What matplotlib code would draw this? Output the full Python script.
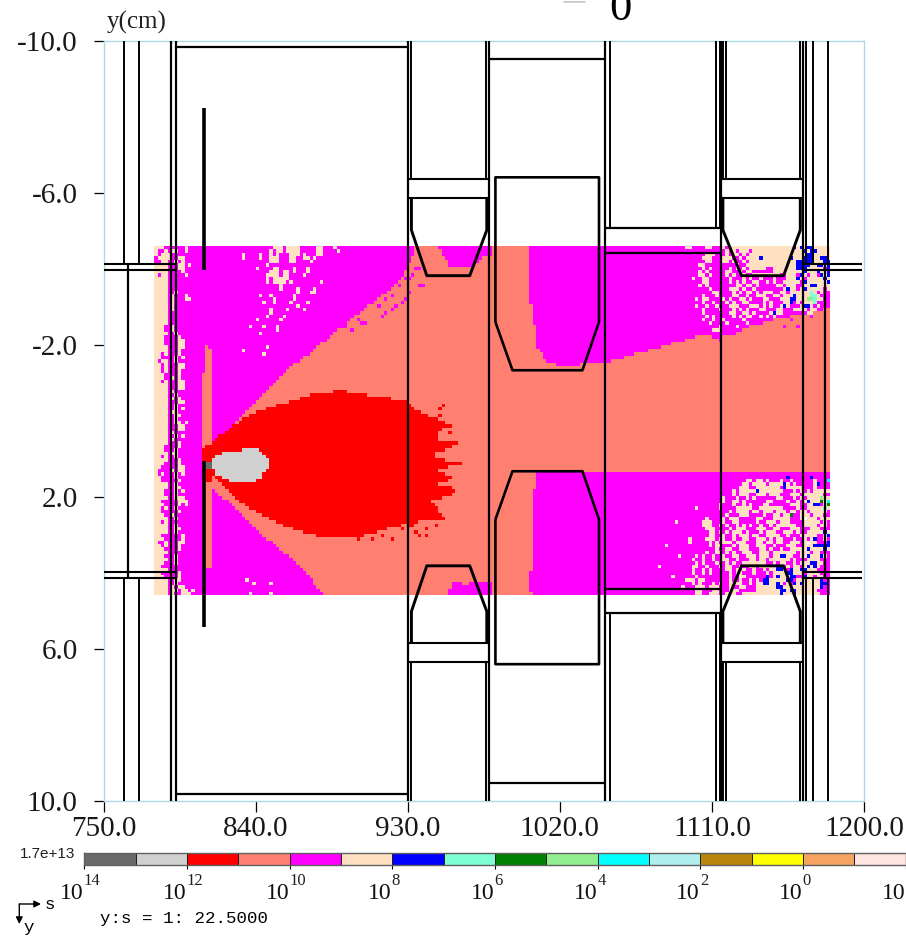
"""Carte de flux (s, y) avec la geometrie de la ligne - copie matplotlib."""
import numpy as np
import matplotlib
matplotlib.use("Agg")
import matplotlib.pyplot as plt
from matplotlib.colors import ListedColormap
from matplotlib.path import Path

SERIF = "Liberation Serif"

# colorbar
bar_colors = ["#696969", "#D0D0D0", "#FF0000", "#FF8070", "#FF00FF", "#FFE0C0",
              "#0000FF", "#7FFFD4", "#008000", "#90EE90", "#00FFFF", "#AFEEEE",
              "#B8860B", "#FFFF00", "#F4A460", "#FFE4E1"]
bar_exponents = ["14", "12", "10", "8", "6", "4", "2", "0", "-2"]
bar_max_label = "1.7e+13"

# axes
s_ticks = [750, 840, 930, 1020, 1110, 1200]
s_labels = ["750.0", "840.0", "930.0", "1020.0", "1110.0", "1200.0"]
y_ticks = [-10, -6, -2, 2, 6, 10]
y_labels = ["-10.0", "-6.0", "-2.0", "2.0", "6.0", "10.0"]

# maillage du flux
mesh_s_min, mesh_s_max, mesh_cols = 780.0, 1180.0, 200
mesh_y_min, mesh_y_max, mesh_rows = -4.6, 4.6, 102
LEVEL = {"c": 5, "m": 4, "s": 3, "r": 2, "g": 1, "d": 0, "b": 6, "a": 7,
         "G": 8, "l": 9, "t": 10, "w": 16}

# zones (s, y)
magenta_zone = [(788, -4.6), (1180, -4.6), (1180, 4.6), (788, 4.6)]
salmon_zone = [(814, 0.57), (825, 0.2), (838, -0.41), (862, -1.46), (868, -1.65),
               (896, -2.65), (924, -3.62), (932, -4.18), (935, -4.6), (1001.6, -4.6),
               (1001.6, -3.7), (1003.4, -2.91), (1005.2, -2.46), (1006.4, -1.94),
               (1012.3, -1.59), (1020, -1.46), (1045.4, -1.52), (1114.6, -2.38),
               (1180, -2.96), (1180, 1.38), (1005.2, 1.38), (1005.2, 1.78),
               (1003.4, 2.04), (1003.4, 3.86), (1001.6, 4.2), (1003.4, 4.6),
               (881, 4.6), (864.4, 3.75), (842.6, 2.96), (824.8, 2.17), (814.2, 1.78)]
salmon_stripe = [(810, -1.94), (812, -1.94), (812, -1.85), (813.6, -1.85), (814.2, 0.57),
                 (814.2, 1.78), (813.6, 3.86), (808.2, 3.86), (808.2, -1.29), (810, -1.29)]
pocket_top = [(947.8, -4.6), (949.6, -4.41), (954.9, -4.1), (968, -4.04), (974.4, -4.28),
              (979.8, -4.33), (979.8, -4.6)]
pocket_bottom = [(953.7, 4.6), (953.7, 4.4), (957, 4.4), (957, 4.2), (962, 4.2), (962, 4.35),
                 (966, 4.35), (966, 4.2), (980, 4.2), (980, 4.6)]
red_zone = [(811.2, 0.65), (821.8, 0.3), (830.7, -0.01), (842.6, -0.28), (854.4, -0.43),
            (872.1, -0.67), (889.9, -0.8), (913.5, -0.62), (929.5, -0.54), (937.2, -0.22),
            (944.9, -0.09), (956.1, 0.12), (947.2, 0.3), (947.8, 0.57), (962, 0.59),
            (947.2, 0.83), (946, 0.99), (962, 1.12), (947.2, 1.3), (957.9, 1.52), (947.2, 1.65),
            (957.9, 1.78), (956.1, 2.02), (941.9, 2.04), (947.2, 2.31), (951.9, 2.57),
            (944.3, 2.62), (929.5, 2.7), (915.3, 2.89), (903.5, 3.02), (888, 3.07), (876.2, 3.02),
            (860.3, 2.83), (844.3, 2.49), (828.9, 2.09), (821, 1.7), (815, 1.42), (812, 1.7),
            (808.2, 1.5), (808.2, 0.7)]
grey_zone = [(814.2, 1.17), (814.8, 0.96), (824.8, 0.78), (842.6, 0.75), (847.3, 1.04),
             (847.3, 1.25), (842.6, 1.52), (835.5, 1.65), (828.9, 1.65), (821.8, 1.52), (817.2, 1.44)]
dark_zone = [(810, 1.12), (814.2, 1.12), (814.2, 1.23), (810, 1.23)]

# taches : (s, y)
red_spots = [(941.8, 2.81), (941.8, 2.98), (935.2, 2.93), (949, -0.33), (949, -0.15),
             (920.4, 3.08), (915.7, 3.05), (901.7, 3.15), (936, 3.05), (908, 3.12),
             (930, 2.78), (933, 2.72), (926, 2.85), (946, 2.72), (950, -0.42), (955, 0.3)]
cream_spots = [(835.5, 4.15), (838.4, 4.3), (848.5, 4.3), (836.6, 4.55), (848.5, 4.55),
               (1083.8, 3.28), (1088, 2.62), (1079, 3.8), (1086, 4.07), (1090, 3.6),
               (800, 4.55), (802, 4.45)]

# blocs de cellules : origine (s, y) puis lignes
top_speckle_origin = (832.0, -4.6)
top_speckle = [
    ".........ccc.cccc.....cc...c",
    "........c.cc.cccc.....cc....c",
    "c....c..c.c...ccc.c...cc",
    "c....c..ccc...cc..cc.c",
    "........ccc...cc....c",
    ".......c",
    "....c....cc....c...c",
    "........ccc.cc.c...c",
    ".......cccc.cc....c",
    ".......c.ccccc",
    ".......c.cccc.c........c",
    "...........c",
    "...........c....c....c",
    "................c...cc",
    ".....c..c......c",
    ".........c.....c",
    "......c..c....c....c",
    "................c",
    "........c....c....c",
    "........c",
    ".......c....c",
    "....c......c",
    "",
    "..c...c...c",
    "..........c",
    ".....c",
    "", "", "",
    ".......c",
    "c",
    "......c",
]

boundary_origin = (892.0, -4.05)
boundary_speckle = [
    ".....................mm",
    "",
    "....................m",
    "..................mm",
    "",
    "................m.....mm",
    "",
    ".........m.........m",
    "..............m",
    ".........m..m.....m",
    "........m........m",
    "..........m....m",
    ".....m........m",
    "....m.......m",
    "...........m",
    ".m..m",
    ".....mm",
    "m",
    "..m",
]

left_origin = (780.0, -4.6)
left_band = [
    "...mmmmm.c",
    ".mm..cc..c",
    ".m.cc.....",
    "m.c.c..cc",
    "mm.c..c.c",
    "...c...cc.c",
    "...c...cc",
    "...c.m..c",
    ".m..m....c",
    "",
    "....m",
    "....m....",
    "....m",
    "....m.c",
    "....mc...c",
    "....mc...cc",
    "....mc",
    "....mc",
    "....mc",
    "....m",
    "",
    "....m",
    "....m",
    "...mmc",
    "...mmc",
    "....m.c",
    "...m.m.c",
    "...m.m.cc",
    "...mmm.cc",
    "....m..cc",
    "....mm.c",
    "..m.mm.c",
    "..mmmmc.c",
    ".m..mmc",
    "..m.mm.cc",
    "..m.mm.cc",
    "..m.mm.c",
    "...m.m.c",
    "...m.c.c",
    "..m..m.cc",
    "....mm.cc",
    "....m..cc",
    "....mc",
    "....m.c",
    "....mc.c",
    "....mm.cc",
    "....m.c",
    "....m.c.c",
    "....mcc",
    "....m.cc",
    "....m.c",
    "....m.cc.c",
    "....m..cc",
    "....m..cc",
    "....mc",
    "....m.c.c",
    "....mc",
    "....mm.c",
    "...m.m.c",
    "...m.mc",
    "....mcc",
    "..m.m.c",
    "....m..c",
    "...mmm.c",
    "..mm.m.cc",
    ".mmm.c.cc",
    ".m.mm.c.c",
    "..mmm.c",
    "..mm.m.c",
    "....m.c",
    "....m.cc",
    "...mm.c.c",
    "...m..c",
    "....m.ccc",
    "..mm.m.ccc",
    "...mmm.c.c",
    "..m.m.c",
    "..mm.m.c",
    "...m.c",
    "....m.c",
    "..m.mm",
    "....m.c",
    "....m.cc",
    "....m.c",
    "..mm.mm.c",
    "...mmmm.c",
    ".mm..m.cc",
    "..m.mm.c",
    "...m.m.c",
    "....mm",
    "...mm.c",
    "....m.c",
    "...m..c",
    "..mm.mm",
    "....m",
    "..mmmm.c",
    "...mm..c",
    "....m.cc",
    "....m.c",
    ".....c.cc",
    ".....cc.cc",
    ".....c..cc",
]

upper_right_origin = (1092.0, -4.6)
upper_right = [
    "mccmmmmccmmmcmcccccccccccccccccccbcbcbbccccccbb",
    "mmmmmmmmmmmmmcmcmcccmcccccccccccccccbcbbcccccbcb",
    "mmmmmmmcccmmmcmccmcmcccccccccccccccccbbcccccbcbb",
    "mmmmmmcccmmmcccmmcmccccbccccccccbcccbbbccbbcc",
    "mmmmmmmccmmmccmcmmcmccccccccccccccbcbbbcccbbbb",
    "mmmmmccmmmmmmmmmcmmccccccccccccccccbbbccbbcb",
    "mmmmmmcmcmmmmmcmcmcmcccccmmcccccccbcccccccmb",
    "mmmmmcmcmmmmmccmmcmccmmmmmmcccccccccbcccbccbc",
    "mmmmmccmcmmmmcmcmmcmmccccccccmmcccmbcmccmbcbb",
    "mmmcmmccmmmmmmcmmmcmcmmcmmmcmmmcccbcmcccccbc",
    "mmmmmmccmmmmmmcmcmcmmccmmcmcmmcccccmbccccccbc",
    "mmmmmcmcmmmmmmmmccmccmcmmmmmccmcccmmccbbcccc",
    "mmmmmmmmcmmmmmcccmcmmcmmmmmmmmcbccmcbcccccmcb",
    "mmmmmmmmmccmmmmcmcmccmcmcccmmccmccccccacmc",
    "mmmmmmcmmmcmmmmccmmcmmcccmmccmcccbccccaac",
    "mmmmcmccmmmmcmcmmccmcmmmccmmmcccbbcccllacc",
    "mmmmmmcmmcmmmcmcmmccmmmmcmcmmmccbmcmccca",
    "mmmmcmmcmmcmmmcccmmmcccmcmcmmcbcmmmcbbcmc",
    "mmmmmmcmmmmcmmmcmcmcmmmccmmmccmmmccccmcc",
    "mmmmmmcmmmmmmmccmmccmcmmmmcbccmmmm.mmcc",
    ".mmmmmmcmcmmmmmcmcmccmmcmcmcmmm.......m",
    "..mmmmcmmcmmcmmmmmcmmmmmmmm.....m",
    "...mmmmmcmmmmcmmmmmcmmmm",
    "....mmmmmmmcmmmmcmmm..........m...m",
    ".....mmmmcccmmmmmm",
    ".......mmmmmmmmm",
    ".........mmm",
    "...........m",
]

blue_block_origin = (1160.0, -4.25)
blue_block = ["bbb", "bbb", "bbb"]

lower_right_origin = (1092.0, 1.38)
lower_right = [
    "...........................................mm",
    "mmmmmmmmmmmmmmmmmmmmmmmmmmmmmmmbmmmmmmbmmmm",
    "mmmmmmmmmmmmmmmmmmmccmccmcmmmcmmcmmmmmmcmmmtm",
    "mmmmmmmmmmmmmmmmmmccmccccmccccbcmcmmmmmcbmmmm",
    "mmmmmmmmmmmmmmmmmcccmmcccccccmbcccccmmmcmmmmmc",
    "mmmmmmmmmmmmmmmcmcccccbcccccccmmmcmcmcmcccccc",
    "mmmmmmmmmmmmmmmcmcccmmcccmcccmmmcccmccccccm",
    "mmmmmmmmmmmmcmmmcmmcmcmmmmmmccmmmcmcmcccclcc",
    "mmmmmmmmmmmmcmmccmcmmmmmmccmmmmcmmcmcbcccGct",
    "mmmmmmmmmmmcmmmcmmcmcmmmccmmmmmmcccmmccbbmcGcc",
    "mmmmcmmmmmmcmmmmcccccmmcccccccmmmmcmmcccccact",
    "mmmmmmmmmmmmmmcmccccmccmcccmcccmccmccmcccccmmc",
    "mmmmmmmmmmmmmcmmmcccmmmmcmmccmccGmmcccmcccmmm",
    "mmmmmmmcmmmmcmcccmmmmmccmmmcccccmmmcwcccmcccc",
    "mmmmmmcccmmmcmmccmmmmmcmmcccmcccmmmmcccccmc",
    "mmmmmmcccmmcmcmmcmcmcmmcmmcmccccccmmccccmcc",
    "mmmmmmmcccmmmmcmcccmmmcccmmccmmmcccmmmcccmmmc",
    "mmmmmmmmccmcmcmcccmcmmmcmcccmmcccmcmmcccccbc",
    "mmmmmmmmccmmcmmcmcccmccmmccccmmcmmmcccccmmcb",
    "mmcmmmmcccmccmmcmmccmmcccmcmccmmmcmmcmcbmmc",
    "mmcmmmmmcmcmcccmcccmmmccmccmccmmcccmcwccmmmb",
    "mmmmmmmmcmccmmmcmcccmmcccmmcmmmcccmmcccbbbbbb",
    "mmmmmmmmmmcmmccmmcccmmmccmcmmcmmcccccbccccbc",
    "mmmmmmmcmmccmcmcmmcccmmcccmcccccccmcccmcc",
    "mmmmcmcmmcmmcmmccmmcccmcccmccbbccmmccbcccbc",
    "mmmcmmcmmcmmccmmcmmmccmccmccccccmcmmmccccm",
    "mmmmcmcmmmcmmcmcmmcccccccmmcmccmmcmcccbbcc",
    "mmmccmmcmmmcmccmmcmmccmcccccbbmcmccmcbcbc",
    "mmmcmmcmcmmmmccmcmcmmcmmcmccbbcmbccbbccc",
    "mmmcmmcmcmmmmmcmccmmmcmmmcmccccbbcccmcccc",
    "mmmmcmmmmmmmmmcmmccmmmmmmbmcbcccbbmmbccmcc",
    "mcccmccmmmmmmmcmmcmmcmcmbbcccccbbmcccccccb",
    "mmmcmcmmmcmcmmccccmmcmccbbccbcmcmbcbcccccbb",
    "cmmmcccmcccmmmcmmccmmmccccccbbcccccccccccb",
    "mmmmccmmmccmmmcccmmmmmcccccccbbcbbcccccc",
    "mmmmccmmcccmmcccmmcccccccccccbcccbccccccc",
    "cccccccccccccccccmcccccccccccbccccccccccc",
]

# geometrie : demi-ligne superieure, repetee en miroir
full_walls = [789.9, 792.9, 930.0, 978.1, 1047.0, 1115.6, 1163.9]
outer_walls = [762.0, 771.2, 1165.8, 1169.8, 1178.7]
inner_walls = [764.5, 1176.7]
upper_walls = [932.2, 976.5, 1116.5, 1118.2, 1162.3]
wall_gap_y = -6.36
wall_plate_y = -5.86
upper_plates = [(930.0, 978.1), (1115.6, 1163.9)]
pipe_y = [-4.14, -3.97]
pipe_spans = [(750.3, 792.9), (1163.9, 1198.7)]
roof_spans = [(792.9, 930.0, -9.84), (978.1, 1047.0, -9.53), (1047.0, 1115.6, -5.07),
              (1047.0, 1115.6, -4.42)]
roof_walls = [1049.5, 1112.6, 1114.6]
roof_wall_end = -5.07
trap_s = [[932.2, 932.2, 941.3, 966.7, 976.8, 976.8],
          [1116.5, 1116.5, 1127.5, 1152.4, 1162.3, 1162.3]]
trap_y = [-5.86, -5.02, -3.82, -3.82, -5.02, -5.86]
core_s = [981.9, 981.9, 1043.2, 1043.2, 1033.4, 992.0, 981.9]
core_y = [-2.6, -6.41, -6.41, -2.6, -1.33, -1.33, -2.6]
foil_s = 809.3
foil_spans = [(-8.23, -3.97), (1.07, 5.42)]

W, H = 906, 938


def paint_zone(grid, centers, zone, code):
    inside = Path(zone).contains_points(centers)
    grid[inside.reshape(grid.shape)] = code


def paint_block(grid, origin, rows, ds, dy):
    i0 = int(round((origin[0] - mesh_s_min) / ds))
    j0 = int(round((origin[1] - mesh_y_min) / dy))
    for j, row in enumerate(rows):
        for i, ch in enumerate(row):
            if ch in LEVEL and 0 <= i0 + i < mesh_cols and 0 <= j0 + j < mesh_rows:
                grid[j0 + j, i0 + i] = LEVEL[ch]


def paint_spots(grid, spots, code, ds, dy):
    for s, y in spots:
        grid[int((y - mesh_y_min) / dy), int((s - mesh_s_min) / ds)] = code


def build_mesh():
    s_edges = np.linspace(mesh_s_min, mesh_s_max, mesh_cols + 1)
    y_edges = np.linspace(mesh_y_min, mesh_y_max, mesh_rows + 1)
    ds = s_edges[1] - s_edges[0]
    dy = y_edges[1] - y_edges[0]
    sc, yc = np.meshgrid(s_edges[:-1] + ds / 2, y_edges[:-1] + dy / 2)
    centers = np.column_stack([sc.ravel(), yc.ravel()])
    grid = np.full((mesh_rows, mesh_cols), LEVEL["c"])
    paint_zone(grid, centers, magenta_zone, LEVEL["m"])
    paint_zone(grid, centers, salmon_zone, LEVEL["s"])
    paint_zone(grid, centers, salmon_stripe, LEVEL["s"])
    paint_zone(grid, centers, pocket_top, LEVEL["m"])
    paint_zone(grid, centers, pocket_bottom, LEVEL["m"])
    paint_zone(grid, centers, red_zone, LEVEL["r"])
    paint_zone(grid, centers, grey_zone, LEVEL["g"])
    paint_zone(grid, centers, dark_zone, LEVEL["d"])
    paint_block(grid, top_speckle_origin, top_speckle, ds, dy)
    paint_block(grid, boundary_origin, boundary_speckle, ds, dy)
    paint_block(grid, left_origin, left_band, ds, dy)
    paint_block(grid, upper_right_origin, upper_right, ds, dy)
    paint_block(grid, blue_block_origin, blue_block, ds, dy)
    paint_block(grid, lower_right_origin, lower_right, ds, dy)
    paint_spots(grid, red_spots, LEVEL["r"], ds, dy)
    paint_spots(grid, cream_spots, LEVEL["c"], ds, dy)
    return s_edges, y_edges, grid


def draw_both(ax, s, y, lw=1.5):
    y = np.asarray(y, dtype=float)
    ax.plot(s, y, color="black", lw=lw, solid_capstyle="butt", zorder=3)
    ax.plot(s, -y, color="black", lw=lw, solid_capstyle="butt", zorder=3)


def draw_geometry(ax):
    for s in full_walls:
        draw_both(ax, [s, s], [-10, 0], lw=1.6)
    for s in outer_walls:
        draw_both(ax, [s, s], [-10, pipe_y[0]], lw=1.4)
    for s in inner_walls:
        draw_both(ax, [s, s], [pipe_y[0], 0], lw=1.6)
    for s in upper_walls:
        draw_both(ax, [s, s], [-10, wall_gap_y], lw=1.4)
    for s0, s1 in upper_plates:
        draw_both(ax, [s0, s1], [wall_gap_y, wall_gap_y], lw=1.5)
        draw_both(ax, [s0, s1], [wall_plate_y, wall_plate_y], lw=1.5)
    for s0, s1 in pipe_spans:
        for y in pipe_y:
            draw_both(ax, [s0, s1], [y, y], lw=1.5)
    for s0, s1, y in roof_spans:
        draw_both(ax, [s0, s1], [y, y], lw=1.6)
    for s in roof_walls:
        draw_both(ax, [s, s], [-10, roof_wall_end], lw=1.4)
    for s in trap_s:
        draw_both(ax, s, trap_y, lw=2.1)
    draw_both(ax, core_s, core_y, lw=1.9)
    for y0, y1 in foil_spans:
        ax.plot([foil_s, foil_s], [y0, y1], color="black", lw=2.6,
                solid_capstyle="butt", zorder=3)


def draw_colorbar(fig):
    x0, x1, top, bottom = 84.3, 905.7, 853.3, 864.7
    cax = fig.add_axes([x0 / W, 1 - bottom / H, (x1 - x0) / W, (bottom - top) / H])
    n = len(bar_colors)
    cmap = ListedColormap(bar_colors)
    cax.pcolormesh(np.arange(n + 1), [0, 1], np.arange(n).reshape(1, n), cmap=cmap,
                   edgecolors="#202020", linewidth=0.7, vmin=0, vmax=n - 1)
    cax.set_xlim(0, n)
    cax.set_ylim(0, 1)
    cax.set_yticks([])
    cax.set_xticks(np.arange(0, n + 1, 2))
    cax.set_xticklabels([])
    cax.tick_params(axis="x", length=3.2, width=0.8, pad=0)
    for sp in cax.spines.values():
        sp.set_color("#606060")
        sp.set_linewidth(1.0)
    step = (x1 - x0) / n * 2
    for k, exp in enumerate(bar_exponents):
        xt = x0 + k * step
        fig.text((xt - 0.5) / W, 1 - 893 / H, "10", family=SERIF, fontsize=17,
                 ha="right", va="center", color="#101010")
        fig.text((xt - 0.5) / W, 1 - 881 / H, exp, family=SERIF, fontsize=12,
                 ha="left", va="center", color="#202020")
    fig.text(20 / W, 1 - 854 / H, bar_max_label, family="Liberation Sans", fontsize=11,
             ha="left", va="center", color="#202020")


def draw_frame_notes(fig):
    fig.text(100 / W, 1 - 918 / H, "y:s = 1: 22.5000", family="Liberation Mono",
             fontsize=12.6, ha="left", va="center", color="black")
    for tip in [(41, 904), (19.3, 924)]:
        fig.add_artist(plt.Annotation(
            "", xy=(tip[0] / W, 1 - tip[1] / H), xytext=(19.3 / W, 1 - 904 / H),
            xycoords="figure fraction", textcoords="figure fraction",
            arrowprops=dict(arrowstyle="-|>", color="black", lw=1.0, mutation_scale=10,
                            shrinkA=0, shrinkB=0)))
    fig.text(50 / W, 1 - 904 / H, "s", family="Liberation Mono", fontsize=12.6,
             ha="center", va="center")
    fig.text(29 / W, 1 - 927 / H, "y", family="Liberation Mono", fontsize=12.6,
             ha="center", va="center")
    fig.text(137 / W, 1 - 22 / H, "y(cm)", family=SERIF, fontsize=18, ha="center",
             va="center", color="#202020")
    # titre coupe en haut de l'image
    fig.text(620 / W, 1 - 20 / H, "0", family=SERIF, fontsize=32, ha="center",
             va="baseline", color="black")
    fig.text(574 / W, 1 - 1 / H, "=", family=SERIF, fontsize=34, ha="center",
             va="center", color="#C8C8C8")


def main():
    fig = plt.figure(figsize=(W / 100, H / 100), dpi=100, facecolor="white")
    ax = fig.add_axes([103.5 / W, 1 - 800.5 / H, (864 - 103.5) / W, (800.5 - 41) / H])

    s_edges, y_edges, grid = build_mesh()
    palette = ListedColormap(bar_colors + ["white"])
    ax.pcolormesh(s_edges, y_edges, grid, cmap=palette, vmin=0, vmax=16,
                  antialiased=False, zorder=1)
    draw_geometry(ax)

    ax.set_xlim(750, 1200)
    ax.set_ylim(10, -10)
    ax.set_xticks(s_ticks)
    ax.set_xticklabels(s_labels, family=SERIF, fontsize=21, color="#181818")
    ax.set_yticks(y_ticks)
    ax.set_yticklabels(y_labels, family=SERIF, fontsize=21, color="#181818")
    ax.tick_params(axis="x", length=8, width=0.9, pad=3)
    ax.tick_params(axis="y", length=7.5, width=0.9, pad=11)
    for sp in ax.spines.values():
        sp.set_color("#ADD8E6")
        sp.set_linewidth(1.0)

    draw_colorbar(fig)
    draw_frame_notes(fig)
    fig.savefig("out.png", dpi=100, facecolor="white")
    plt.close(fig)


main()
